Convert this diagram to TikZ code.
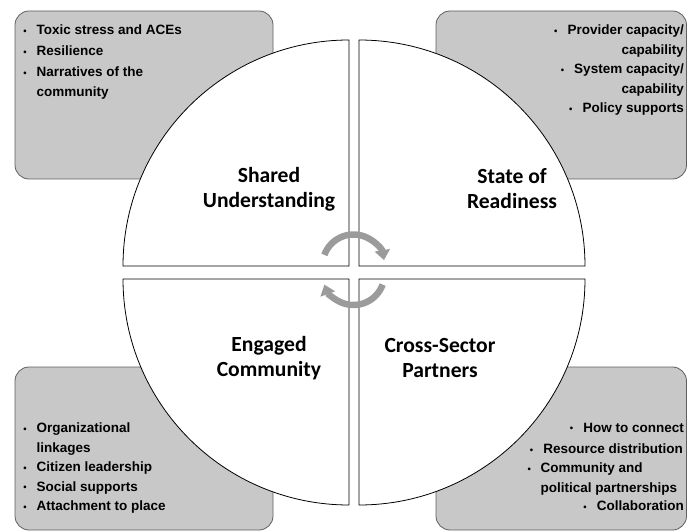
\documentclass[tikz,border=0pt]{standalone}
\usepackage{fontspec}
\setmainfont{Liberation Sans}
\newfontfamily\labelfont{Carlito}
\usetikzlibrary{arrows.meta}
\definecolor{boxgray}{RGB}{200,200,200}
\definecolor{boxline}{RGB}{95,95,95}
\definecolor{arrowgray}{RGB}{155,155,155}
\newcommand{\dotbul}{\raisebox{0.8pt}{\fontsize{9.5}{9.5}\selectfont•}}
\newcommand{\itembul}{\makebox[14pt][l]{\hspace{0.8pt}\dotbul}}
\newcommand{\rbul}{\dotbul\hspace{10pt}}
\tikzset{infobox/.style={draw=boxline,fill=boxgray,line width=0.8pt,rounded corners=14pt},
         quarter/.style={draw=black,fill=white,line width=0.8pt},
         listtext/.style={inner sep=0pt,font=\fontsize{13.5}{19.5}\selectfont\bfseries},
         quadlabel/.style={inner sep=0pt,align=center,font=\labelfont\fontsize{21.6}{25}\selectfont\bfseries},
         cyclearrow/.style={draw=arrowgray,line width=6.5pt,-{Triangle[length=10pt,width=15pt]}}}

\begin{document}
\begin{tikzpicture}[x=1pt,y=1pt]
        \useasboundingbox (0,0) rectangle (688,531);
        % grey boxes sit behind the circle
        \draw[infobox] (15,352) rectangle (273,520);
        \draw[infobox] (436,352) rectangle (686.5,520);
        \draw[infobox] (15,1) rectangle (273,164);
        \draw[infobox] (436,1) rectangle (686.5,164);

        % the four quarters of the circle
        \draw[quarter] (349,265) -- ++(-226,0) arc (180:90:226) -- cycle;
        \draw[quarter] (359,265) -- ++(0,226) arc (90:0:226) -- cycle;
        \draw[quarter] (349,252) -- ++(0,-226) arc (270:180:226) -- cycle;
        \draw[quarter] (359,252) -- ++(226,0) arc (0:-90:226) -- cycle;

        \node[quadlabel] (shared) at (269,342) {Shared\\Understanding};
        \node[quadlabel] (ready) at (512,342) {State of\\Readiness};
        \node[quadlabel] (engaged) at (269,173) {Engaged\\Community};
        \node[quadlabel] (cross) at (440,173) {Cross-Sector\\Partners};

        % lists in the boxes
        \node[listtext,anchor=north west,align=left] (sharedlist) at (22.5,506) {\itembul Toxic stress and ACEs\\[1.5pt]\itembul Resilience\\[1.5pt]\itembul Narratives of the\\\hspace*{14pt}community};
        \node[listtext,anchor=north east,align=right] (readylist) at (684,506) {\rbul Provider capacity/\\capability\\\rbul System capacity/\\capability\\\rbul Policy supports};
        \node[listtext,anchor=north west,align=left] (engagedlist) at (22.5,108) {\itembul Organizational\\\hspace*{14pt}linkages\\\itembul Citizen leadership\\\itembul Social supports\\\itembul Attachment to place};
        \node[listtext,anchor=north east] (cross1) at (684,108) {\rbul How to connect};
        \node[listtext,anchor=north east] (cross2) at (683,87) {\rbul Resource distribution};
        \node[listtext,anchor=north west,align=left] (cross3) at (526.5,68) {\itembul Community and\\\hspace*{14pt}political partnerships};
        \node[listtext,anchor=north east] (cross4) at (684,30) {\rbul Collaboration};

        % the two turning arrows in the middle
        \coordinate (tophub) at (353.5,265.5);
        \coordinate (bothub) at (353.5,257);
        \draw[cyclearrow] (tophub) ++(160:31) arc (160:10:31);
        \draw[cyclearrow] (bothub) ++(-20:31) arc (-20:-160:31);
\end{tikzpicture}
\end{document}
